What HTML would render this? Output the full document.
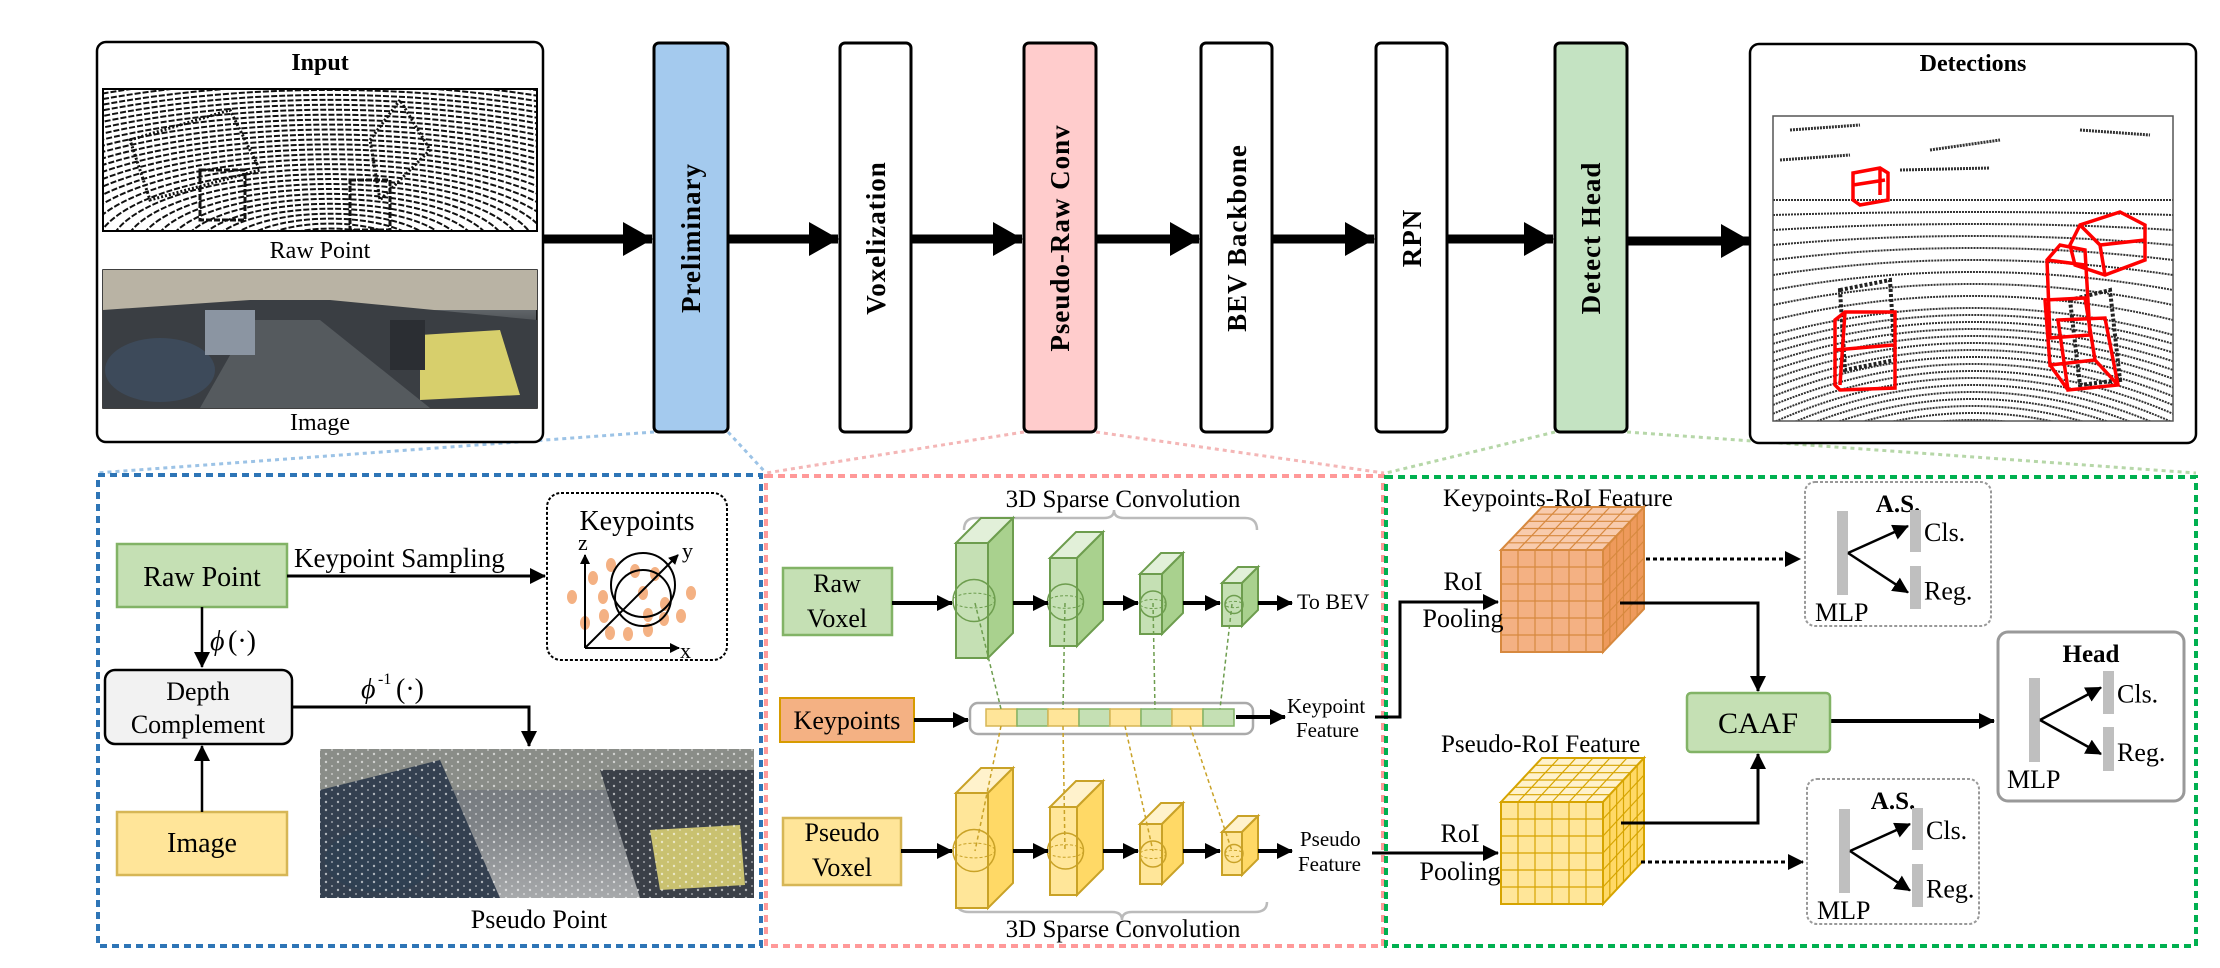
<!DOCTYPE html>
<html><head><meta charset="utf-8"><style>
html,body{margin:0;padding:0;background:#fff;}
svg, svg text{font-family:"Liberation Serif","Times New Roman","DejaVu Serif Condensed","DejaVu Serif",serif;}
</style></head><body>
<svg id="s" width="2220" height="963" viewBox="0 0 2220 963" xmlns="http://www.w3.org/2000/svg">
<defs>
<marker id="ah" markerWidth="10" markerHeight="10" refX="9" refY="5" orient="auto" markerUnits="userSpaceOnUse"><path d="M0,0 L10,5 L0,10z" fill="#000"/></marker>
<marker id="ahm" markerWidth="16" markerHeight="16" refX="15" refY="8" orient="auto" markerUnits="userSpaceOnUse"><path d="M0,0 L16,8 L0,16z" fill="#000"/></marker>
<marker id="ahb" markerWidth="30" markerHeight="34" refX="29" refY="17" orient="auto" markerUnits="userSpaceOnUse"><path d="M0,0 L30,17 L0,34z" fill="#000"/></marker>
<linearGradient id="road" x1="0" y1="0" x2="0" y2="1"><stop offset="0" stop-color="#9aa0a4"/><stop offset="0.4" stop-color="#4a4e52"/><stop offset="1" stop-color="#2c2f33"/></linearGradient>
<linearGradient id="road2" x1="0" y1="0" x2="0" y2="1"><stop offset="0" stop-color="#6d7278"/><stop offset="0.5" stop-color="#7e8286"/><stop offset="1" stop-color="#a7a9ab"/></linearGradient>
<pattern id="noise" width="12" height="8" patternUnits="userSpaceOnUse"><circle cx="2" cy="2" r="1.2" fill="#fff" opacity="0.6"/><circle cx="8" cy="6" r="1" fill="#fff" opacity="0.5"/></pattern>
<clipPath id="c1"><rect x="103" y="89" width="434" height="142"/></clipPath>
<clipPath id="c2"><rect x="1773" y="116" width="400" height="305"/></clipPath>
</defs>

<g stroke-width="3" stroke-dasharray="4 4" fill="none">
<path d="M654,432 L96,473 M728,432 L766,473" stroke="#9cc3e6"/>
<path d="M1024,432 L766,473 M1096,432 L1384,473" stroke="#f4b6b6"/>
<path d="M1555,432 L1386,473 M1627,432 L2196,473" stroke="#b6d7a8"/>
</g>

<rect x="97" y="42" width="446" height="400" rx="9" fill="#fff" stroke="#000" stroke-width="2.5"/>
<text x="320" y="70" font-size="24" font-weight="bold" text-anchor="middle">Input</text>
<rect x="103" y="89" width="434" height="142" fill="#fff"/>
<g clip-path="url(#c1)" fill="none" stroke="#111" stroke-width="2" stroke-dasharray="6 2">
<g id="arcs1"></g>
<path d="M130,140 L230,110 L260,170 L150,200z M370,140 L400,100 L430,150 L380,200z" stroke-dasharray="2 2" stroke-width="3"/>
<rect x="200" y="170" width="45" height="50" stroke-width="3"/>
<rect x="350" y="180" width="40" height="50" stroke-width="3"/>
</g>
<rect x="103" y="89" width="434" height="142" fill="none" stroke="#000" stroke-width="2"/>
<text x="320" y="258" font-size="24" text-anchor="middle">Raw Point</text>
<rect x="103" y="270" width="434" height="138" fill="url(#road)" stroke="#000" stroke-width="1.5"/>
<rect x="103" y="270" width="434" height="40" fill="#b9b3a4"/>
<path d="M103,310 L250,300 L330,300 L537,320 L537,408 L103,408z" fill="#3a3e43"/>
<path d="M250,320 L320,320 L430,408 L200,408z" fill="#555a5e"/>
<ellipse cx="160" cy="370" rx="55" ry="32" fill="#3d4a5a"/>
<rect x="205" y="310" width="50" height="45" fill="#8b95a2"/>
<path d="M420,335 L500,330 L520,395 L420,400z" fill="#d7cf6c"/>
<rect x="390" y="320" width="35" height="50" fill="#2b2e33"/>
<text x="320" y="430" font-size="24" text-anchor="middle">Image</text>

<g stroke="#000" stroke-width="3">
<rect x="654" y="43" width="74" height="389" rx="5" fill="#a4caee"/>
<rect x="840" y="43" width="71" height="389" rx="5" fill="#fff"/>
<rect x="1024" y="43" width="72" height="389" rx="5" fill="#ffcccc"/>
<rect x="1201" y="43" width="71" height="389" rx="5" fill="#fff"/>
<rect x="1376" y="43" width="71" height="389" rx="5" fill="#fff"/>
<rect x="1555" y="43" width="72" height="389" rx="5" fill="#c4e3c2"/>
</g>
<g font-size="27" font-weight="bold" text-anchor="middle" letter-spacing="1">
<text transform="translate(700,238) rotate(-90)">Preliminary</text>
<text transform="translate(885,238) rotate(-90)">Voxelization</text>
<text transform="translate(1069,238) rotate(-90)">Pseudo-Raw Conv</text>
<text transform="translate(1246,238) rotate(-90)">BEV Backbone</text>
<text transform="translate(1421,238) rotate(-90)">RPN</text>
<text transform="translate(1600,238) rotate(-90)">Detect Head</text>
</g>
<g stroke="#000" stroke-width="9" marker-end="url(#ahb)">
<line x1="543" y1="239" x2="652" y2="239"/>
<line x1="728" y1="239" x2="838" y2="239"/>
<line x1="911" y1="239" x2="1022" y2="239"/>
<line x1="1096" y1="239" x2="1199" y2="239"/>
<line x1="1272" y1="239" x2="1374" y2="239"/>
<line x1="1447" y1="239" x2="1553" y2="239"/>
<line x1="1627" y1="241" x2="1750" y2="241"/>
</g>

<rect x="1750" y="44" width="446" height="399" rx="9" fill="#fff" stroke="#000" stroke-width="2.5"/>
<text x="1973" y="71" font-size="24" font-weight="bold" text-anchor="middle">Detections</text>
<rect x="1773" y="116" width="400" height="305" fill="#fff"/>
<g clip-path="url(#c2)" fill="none" stroke="#333" stroke-width="2" stroke-dasharray="2 1">
<g id="arcs2"></g>
<path d="M1790,130 L1860,125 M1930,150 L2000,140 M2080,130 L2150,135 M1780,160 L1850,155 M1900,170 L1990,168" stroke-width="3"/>
<path d="M1840,290 L1890,280 L1895,360 L1845,370z M2070,300 L2110,290 L2120,380 L2080,385z" stroke="#222" stroke-width="4" stroke-dasharray="3 2"/>
</g>
<rect x="1773" y="116" width="400" height="305" fill="none" stroke="#555" stroke-width="1.5"/>
<g stroke="#f00" stroke-width="3.5" fill="none">
<path d="M1853,173 L1880,168 L1888,173 L1888,200 L1860,205 L1853,200z M1853,185 L1885,180 M1880,168 L1880,195"/>
<path d="M1835,320 L1845,312 L1895,312 L1895,388 L1840,390 L1835,385z M1835,350 L1893,345 M1845,312 L1840,385"/>
<path d="M2070,245 L2080,225 L2120,212 L2145,225 L2145,260 L2105,275 L2075,265z M2080,225 L2100,245 L2145,240 M2100,245 L2105,275"/>
<path d="M2047,260 L2060,245 L2085,250 L2090,335 L2050,338z M2047,260 L2085,265"/>
<path d="M2045,300 L2085,298 L2095,360 L2050,365z M2058,320 L2105,318 L2118,385 L2068,390z M2050,365 L2068,390 M2095,360 L2118,385"/>
</g>

<rect x="98" y="475" width="663" height="471" fill="none" stroke="#2e75b6" stroke-width="4" stroke-dasharray="7 5"/>
<rect x="766" y="476" width="617" height="470" fill="none" stroke="#ff9999" stroke-width="4" stroke-dasharray="7 5"/>
<rect x="1386" y="477" width="810" height="469" fill="none" stroke="#00b050" stroke-width="4" stroke-dasharray="7 5"/>

<rect x="117" y="544" width="170" height="63" fill="#c5e0b4" stroke="#82b366" stroke-width="2.5"/>
<text x="202" y="586" font-size="28" text-anchor="middle">Raw Point</text>
<text x="294" y="567" font-size="27">Keypoint Sampling</text>
<line x1="287" y1="576" x2="545" y2="576" stroke="#000" stroke-width="3" marker-end="url(#ahm)"/>
<rect x="547" y="493" width="180" height="167" rx="14" fill="#fff" stroke="#000" stroke-width="2" stroke-dasharray="3 2"/>
<text x="637" y="530" font-size="28" text-anchor="middle">Keypoints</text>
<g fill="#f4b183">
<ellipse cx="611" cy="565" rx="5" ry="7"/><ellipse cx="635" cy="571" rx="5" ry="7"/><ellipse cx="655" cy="574" rx="5" ry="7"/><ellipse cx="593" cy="578" rx="5" ry="7"/><ellipse cx="572" cy="597" rx="5" ry="7"/><ellipse cx="603" cy="597" rx="5" ry="7"/><ellipse cx="643" cy="593" rx="5" ry="7"/><ellipse cx="665" cy="604" rx="5" ry="7"/><ellipse cx="691" cy="593" rx="5" ry="7"/><ellipse cx="604" cy="616" rx="5" ry="7"/><ellipse cx="648" cy="615" rx="5" ry="7"/><ellipse cx="664" cy="619" rx="5" ry="7"/><ellipse cx="681" cy="616" rx="5" ry="7"/><ellipse cx="585" cy="623" rx="5" ry="7"/><ellipse cx="610" cy="633" rx="5" ry="7"/><ellipse cx="628" cy="634" rx="5" ry="7"/><ellipse cx="648" cy="630" rx="5" ry="7"/>
</g>
<g fill="none" stroke="#000" stroke-width="2">
<circle cx="643" cy="585" r="32"/><circle cx="643" cy="598" r="28"/>
<line x1="585" y1="648" x2="585" y2="555" marker-end="url(#ah)"/>
<line x1="585" y1="648" x2="679" y2="648" marker-end="url(#ah)"/>
<line x1="585" y1="648" x2="678" y2="555" marker-end="url(#ah)"/>
</g>
<text x="578" y="550" font-size="22">z</text><text x="682" y="558" font-size="22">y</text><text x="680" y="658" font-size="22">x</text>

<line x1="202" y1="607" x2="202" y2="667" stroke="#000" stroke-width="2.5" marker-end="url(#ahm)"/>
<text x="210" y="650" font-size="28" font-style="italic">ϕ</text><text x="228" y="650" font-size="28">(·)</text>
<rect x="105" y="670" width="187" height="74" rx="10" fill="#f2f2f2" stroke="#000" stroke-width="2.5"/>
<text x="198" y="700" font-size="26" text-anchor="middle">Depth</text>
<text x="198" y="733" font-size="26" text-anchor="middle">Complement</text>
<text x="361" y="698" font-size="28" font-style="italic">ϕ</text><text x="378" y="684" font-size="16">-1</text><text x="396" y="698" font-size="28">(·)</text>
<path d="M292,707 L529,707 L529,746" fill="none" stroke="#000" stroke-width="3" marker-end="url(#ahm)"/>
<rect x="117" y="812" width="170" height="63" fill="#ffe599" stroke="#d6b656" stroke-width="2.5"/>
<text x="202" y="852" font-size="28" text-anchor="middle">Image</text>
<line x1="202" y1="812" x2="202" y2="746" stroke="#000" stroke-width="2.5" marker-end="url(#ahm)"/>
<rect x="320" y="749" width="434" height="149" fill="url(#road2)"/>
<path d="M320,749 L754,749 L754,790 L320,790z" fill="#8a8d88"/>
<path d="M320,790 L440,760 L500,898 L320,898z" fill="#344050"/>
<path d="M600,770 L754,770 L754,898 L640,898z" fill="#3b4048"/>
<path d="M650,830 L740,825 L745,885 L660,890z" fill="#c9c170"/>
<ellipse cx="380" cy="860" rx="55" ry="32" fill="#2f4052"/>
<rect x="320" y="749" width="434" height="149" fill="url(#noise)"/>
<text x="539" y="928" font-size="26" text-anchor="middle">Pseudo Point</text>

<text x="1123" y="507" font-size="25" text-anchor="middle">3D Sparse Convolution</text>
<path d="M964,530 Q964,518 976,518 L1104,518 Q1114,518 1114,510 Q1114,518 1124,518 L1245,518 Q1257,518 1257,530" fill="none" stroke="#bbb" stroke-width="2.5"/>
<text x="1123" y="937" font-size="25" text-anchor="middle">3D Sparse Convolution</text>
<path d="M957,902 Q957,912 969,912 L1112,912 Q1122,912 1122,920 Q1122,912 1132,912 L1255,912 Q1267,912 1267,902" fill="none" stroke="#bbb" stroke-width="2.5"/>

<rect x="783" y="568" width="109" height="67" fill="#c5e0b4" stroke="#82b366" stroke-width="2.5"/>
<text x="837" y="592" font-size="26" text-anchor="middle">Raw</text><text x="837" y="627" font-size="26" text-anchor="middle">Voxel</text>
<rect x="780" y="698" width="134" height="44" fill="#f4b183" stroke="#d79b00" stroke-width="2"/>
<text x="847" y="729" font-size="26" text-anchor="middle">Keypoints</text>
<rect x="783" y="818" width="118" height="67" fill="#ffe599" stroke="#d6b656" stroke-width="2.5"/>
<text x="842" y="841" font-size="26" text-anchor="middle">Pseudo</text><text x="842" y="876" font-size="26" text-anchor="middle">Voxel</text>

<g id="slabs"></g>
<rect x="970" y="703" width="283" height="31" rx="8" fill="#fff" stroke="#aaa" stroke-width="2.5"/>
<g id="cells"></g>

<g stroke="#000" stroke-width="4">
<line x1="892" y1="603" x2="952" y2="603" marker-end="url(#ahm)"/>
<line x1="1013" y1="603" x2="1048" y2="603" marker-end="url(#ahm)"/>
<line x1="1103" y1="603" x2="1138" y2="603" marker-end="url(#ahm)"/>
<line x1="1183" y1="603" x2="1220" y2="603" marker-end="url(#ahm)"/>
<line x1="1258" y1="603" x2="1292" y2="603" marker-end="url(#ahm)"/>
<line x1="914" y1="720" x2="968" y2="720" marker-end="url(#ahm)"/>
<line x1="1236" y1="717" x2="1285" y2="717" marker-end="url(#ahm)"/>
<line x1="901" y1="851" x2="952" y2="851" marker-end="url(#ahm)"/>
<line x1="1013" y1="851" x2="1048" y2="851" marker-end="url(#ahm)"/>
<line x1="1103" y1="851" x2="1138" y2="851" marker-end="url(#ahm)"/>
<line x1="1183" y1="851" x2="1220" y2="851" marker-end="url(#ahm)"/>
<line x1="1258" y1="851" x2="1292" y2="851" marker-end="url(#ahm)"/>
</g>
<text x="1297" y="609" font-size="22">To BEV</text>
<text x="1287" y="713" font-size="21">Keypoint</text><text x="1296" y="737" font-size="21">Feature</text>
<text x="1300" y="846" font-size="21">Pseudo</text><text x="1298" y="871" font-size="21">Feature</text>

<text x="1443" y="506" font-size="25">Keypoints-RoI Feature</text>
<text x="1441" y="752" font-size="25">Pseudo-RoI Feature</text>
<g id="cubes"></g>
<text x="1463" y="590" font-size="26" text-anchor="middle">RoI</text><text x="1463" y="627" font-size="26" text-anchor="middle">Pooling</text>
<text x="1460" y="842" font-size="26" text-anchor="middle">RoI</text><text x="1460" y="880" font-size="26" text-anchor="middle">Pooling</text>
<g fill="none" stroke="#000" stroke-width="3">
<path d="M1375,717 L1400,717 L1400,602 L1498,602" marker-end="url(#ahm)"/>
<path d="M1372,853 L1498,853" marker-end="url(#ahm)"/>
<path d="M1620,603 L1758,603 L1758,691" marker-end="url(#ahm)"/>
<path d="M1621,823 L1758,823 L1758,754" marker-end="url(#ahm)"/>
<path d="M1830,721 L1994,721" stroke-width="4" marker-end="url(#ahm)"/>
<path d="M1646,559 L1800,559" stroke-dasharray="4 3" marker-end="url(#ahm)"/>
<path d="M1641,862 L1803,862" stroke-dasharray="4 3" marker-end="url(#ahm)"/>
</g>
<rect x="1687" y="693" width="143" height="59" rx="4" fill="#c5e0b4" stroke="#82b366" stroke-width="2.5"/>
<text x="1758" y="733" font-size="30" text-anchor="middle">CAAF</text>
<g id="heads"></g>
</svg>
<script>
var NS="http://www.w3.org/2000/svg";
function el(p,t,a){var e=document.createElementNS(NS,t);for(var k in a)e.setAttribute(k,a[k]);p.appendChild(e);return e;}
var a1=document.getElementById("arcs1");
for(var r=30;r<320;r+=9){el(a1,"ellipse",{cx:330,cy:250,rx:r*1.6,ry:r*0.55});}
var a2=document.getElementById("arcs2");
for(var y=200;y<430;y+=(y<300?12:7)){var c=(y-200)*0.25;el(a2,"path",{d:"M1773,"+(y+c)+" Q1973,"+(y-c)+" 2173,"+(y+c)});}
var sl=document.getElementById("slabs");
function slab(x,y,w,h,d,c1,c2,c3,st,r){
 el(sl,"path",{d:"M"+x+","+y+" l"+d+","+(-d)+" l"+w+",0 l"+(-d)+","+d+"z",fill:c3,stroke:st,"stroke-width":2});
 el(sl,"path",{d:"M"+(x+w)+","+y+" l"+d+","+(-d)+" l0,"+h+" l"+(-d)+","+d+"z",fill:c2,stroke:st,"stroke-width":2});
 el(sl,"rect",{x:x,y:y,width:w,height:h,fill:c1,stroke:st,"stroke-width":2});
 el(sl,"circle",{cx:x+w/2+2,cy:y+h/2,r:r,fill:"none",stroke:st,"stroke-width":1.5});
 el(sl,"ellipse",{cx:x+w/2+2,cy:y+h/2,rx:r,ry:r*0.35,fill:"none",stroke:st,"stroke-width":1,"stroke-dasharray":"3 2"});
}
var G=["#c5e0b4","#a9d18e","#e2f0d9","#6d9d4e"],Y=["#ffe699","#ffd966","#fff2cc","#c9a227"];
[[956,543,32,115,25,21],[1050,558,27,88,26,18],[1140,574,22,60,21,13],[1222,583,20,43,16,9]].forEach(function(s){slab(s[0],s[1],s[2],s[3],s[4],G[0],G[1],G[2],G[3],s[5]);});
[[956,793,32,115,25,21],[1050,807,27,88,26,18],[1140,824,22,60,21,13],[1222,832,20,43,16,9]].forEach(function(s){slab(s[0],s[1],s[2],s[3],s[4],Y[0],Y[1],Y[2],Y[3],s[5]);});
var ce=document.getElementById("cells");
for(var i=0;i<8;i++){el(ce,"rect",{x:986+i*31,y:709,width:31,height:17,fill:i%2?"#c5e0b4":"#ffe599",stroke:i%2?"#82b366":"#d6b656","stroke-width":1.5});}
[[975,603,1001,709,"#6d9d4e"],[1065,603,1063,709,"#6d9d4e"],[1153,603,1155,709,"#6d9d4e"],[1232,604,1220,709,"#6d9d4e"],
[1001,726,975,851,"#c9a227"],[1063,726,1065,851,"#c9a227"],[1125,726,1153,851,"#c9a227"],[1190,726,1232,851,"#c9a227"]].forEach(function(l){el(ce,"line",{x1:l[0],y1:l[1],x2:l[2],y2:l[3],stroke:l[4],"stroke-width":1.5,"stroke-dasharray":"4 3"});});
var cu=document.getElementById("cubes");
function cube(x,y,w,h,dx,dy,n,cf,cs,ct,st){
 el(cu,"path",{d:"M"+x+","+y+" l"+dx+","+(-dy)+" l"+w+",0 l"+(-dx)+","+dy+"z",fill:ct,stroke:st,"stroke-width":2});
 el(cu,"path",{d:"M"+(x+w)+","+y+" l"+dx+","+(-dy)+" l0,"+h+" l"+(-dx)+","+dy+"z",fill:cs,stroke:st,"stroke-width":2});
 el(cu,"rect",{x:x,y:y,width:w,height:h,fill:cf,stroke:st,"stroke-width":2});
 for(var k=1;k<n;k++){var f=k/n;
  [[x+w*f,y,x+w*f,y+h],[x,y+h*f,x+w,y+h*f],[x+w*f,y,x+w*f+dx,y-dy],[x+dx*f,y-dy*f,x+w+dx*f,y-dy*f],[x+w+dx*f,y-dy*f,x+w+dx*f,y+h-dy*f],[x+w,y+h*f,x+w+dx,y+h*f-dy]].forEach(function(l){
   el(cu,"line",{x1:l[0],y1:l[1],x2:l[2],y2:l[3],stroke:st,"stroke-width":1.2});});
 }
}
cube(1501,550,102,102,41,43,6,"#f4b183","#ee9a5c","#f8cbad","#d7893f");
cube(1501,802,102,102,41,44,6,"#ffe699","#ffd966","#fff2cc","#d6a400");
var hd=document.getElementById("heads");
function head(bx,by,bw,bh,dash,title,mx,my1,my2,cx,c1,c2,r1,r2){
 el(hd,"rect",{x:bx,y:by,width:bw,height:bh,rx:10,fill:"#fff",stroke:"#999","stroke-width":dash?2:3,"stroke-dasharray":dash?"3 2":"none"});
 var t=el(hd,"text",{x:bx+bw/2,y:by+30,"font-size":25,"font-weight":"bold","text-anchor":"middle"});t.textContent=title;
 el(hd,"rect",{x:mx,y:my1,width:11,height:my2-my1,fill:"#bfbfbf"});
 el(hd,"rect",{x:cx,y:c1,width:11,height:c2-c1,fill:"#bfbfbf"});
 el(hd,"rect",{x:cx,y:r1,width:11,height:r2-r1,fill:"#bfbfbf"});
 var my=(my1+my2)/2;
 el(hd,"line",{x1:mx+11,y1:my,x2:cx-2,y2:(c1+c2)/2-5,stroke:"#000","stroke-width":2.5,"marker-end":"url(#ahm)"});
 el(hd,"line",{x1:mx+11,y1:my,x2:cx-2,y2:(r1+r2)/2+5,stroke:"#000","stroke-width":2.5,"marker-end":"url(#ahm)"});
 var a=el(hd,"text",{x:cx+14,y:(c1+c2)/2+10,"font-size":26});a.textContent="Cls.";
 var b=el(hd,"text",{x:cx+14,y:(r1+r2)/2+12,"font-size":26});b.textContent="Reg.";
 var m=el(hd,"text",{x:mx-22,y:my2+26,"font-size":26});m.textContent="MLP";
}
head(1805,482,186,144,true,"A.S.",1837,511,595,1910,510,552,566,609);
head(1807,779,172,145,true,"A.S.",1839,809,893,1912,808,850,864,907);
head(1998,632,186,169,false,"Head",2029,678,762,2103,671,714,727,771);
</script>
</body></html>
